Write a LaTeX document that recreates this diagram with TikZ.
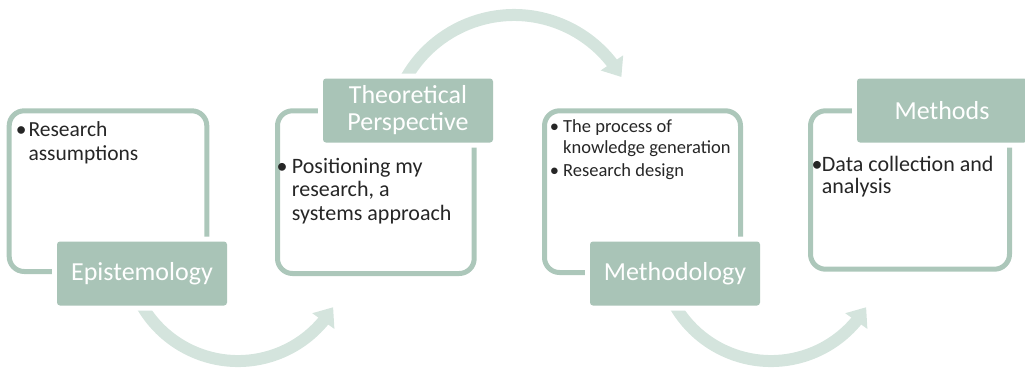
\documentclass[tikz,border=0pt]{standalone}
\usepackage{fontspec}
\setmainfont{Carlito}
\usetikzlibrary{arrows.meta,bending,calc}
\definecolor{labfill}{RGB}{169,196,183}
\definecolor{frmcol}{RGB}{172,199,186}
\definecolor{arwcol}{RGB}{212,228,221}
\definecolor{txtcol}{RGB}{38,38,38}
\pgfdeclarelayer{bg}
\pgfsetlayers{bg,main}
\begin{document}
\begin{tikzpicture}[x=1pt,y=1pt,
  framebox/.style={draw=frmcol, line width=5pt, rounded corners=15pt, inner sep=0pt, outer sep=0pt},
  labelbox/.style={fill=labfill, rounded corners=3pt, minimum width=170pt, minimum height=64pt,
     inner sep=0pt, outer sep=0pt, text=white, font=\fontsize{26}{27}\selectfont, align=center,
     preaction={draw=white, line width=10pt}},
  bodytext/.style={anchor=base west, inner sep=0pt, align=left, text=txtcol},
  bulletmark/.style={anchor=base, inner sep=0pt, text=txtcol},
  flow/.style={draw=arwcol, line width=12pt, -{Triangle[width=26pt,length=17pt]}}
]
\useasboundingbox (0,0) rectangle (1025,368);

% frames
\node[framebox, minimum width=197.6pt, minimum height=160.7pt] (f1) at (108,176.85) {};
\node[framebox, minimum width=196.7pt, minimum height=162.7pt] (f2) at (375.85,175.85) {};
\node[framebox, minimum width=196pt, minimum height=161.7pt] (f3) at (642.5,176.35) {};
\node[framebox, minimum width=199pt, minimum height=158.4pt] (f4) at (910,178) {};

% labels
\node[labelbox] (L1) at (142,94.5) {Epistemology};
\node[labelbox] (L2) at (408,257.5) {Theoretical\\Perspective};
\node[labelbox] (L3) at (675,94.5) {Methodology};
\node[labelbox] (L4) at (942,257.5) {Methods};

% body texts (base anchor of a multi-line node = baseline of its last line)
\node[bulletmark, font=\fontsize{21.5}{23.4}\selectfont] (b1) at (21.2,231.3) {•};
\node[bodytext, font=\fontsize{21.5}{23.4}\selectfont] (t1) at (28.3,207.9) {Research\\assumptions};

\node[bulletmark, font=\fontsize{22}{23.4}\selectfont] (b2) at (282,194.7) {•};
\node[bodytext, font=\fontsize{22}{23.4}\selectfont] (t2) at (291.7,147.9) {Positioning my\\research, a\\systems approach};

\node[bulletmark, font=\fontsize{18.5}{20.6}\selectfont] (b3a) at (554.5,235.3) {•};
\node[bodytext, font=\fontsize{18.5}{20.6}\selectfont] (t3a) at (563,214.7) {The process of\\knowledge generation};
\node[bulletmark, font=\fontsize{18.5}{20.6}\selectfont] (b3b) at (554.5,192) {•};
\node[bodytext, font=\fontsize{18.5}{20.6}\selectfont] (t3b) at (563,192) {Research design};

\node[bulletmark, font=\fontsize{22}{21.6}\selectfont] (b4) at (817,196.3) {•};
\node[bodytext, font=\fontsize{22}{21.6}\selectfont] (t4) at (821.7,174.7) {Data collection and\\analysis};

% curved arrows
\begin{pgfonlayer}{bg}
\draw[flow] ($(L1.center)+(-8.3,-14.5)$) arc[start angle=200, end angle=329, radius=111];
\draw[flow] ($(L2.center)+(-10.5,13.9)$) arc[start angle=160, end angle=30, radius=124];
\draw[flow] ($(L3.center)+(-8.3,-14.5)$) arc[start angle=200, end angle=329, radius=111];
\end{pgfonlayer}
\end{tikzpicture}
\end{document}
